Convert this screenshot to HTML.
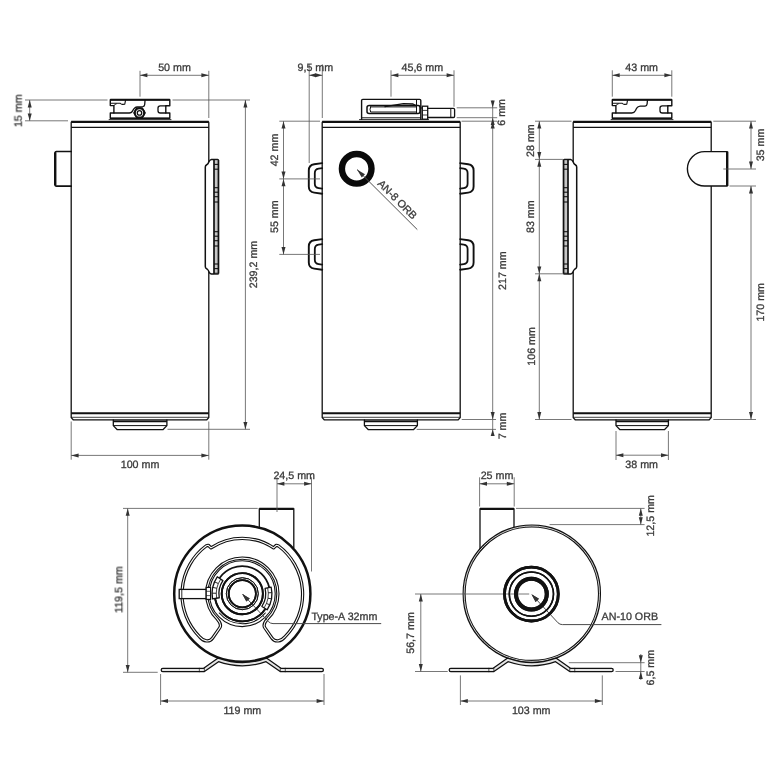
<!DOCTYPE html>
<html><head><meta charset="utf-8"><title>Drawing</title>
<style>
html,body{margin:0;padding:0;background:#fff;}
body{width:780px;height:780px;overflow:hidden;}
svg{display:block}
text{font-family:"Liberation Sans",sans-serif;font-size:10.7px;fill:#383838;dominant-baseline:central;text-rendering:geometricPrecision;stroke:#383838;stroke-width:0.3px;}
</style></head><body>
<svg width="780" height="780" viewBox="0 0 780 780">
<rect x="0" y="0" width="780" height="780" fill="#fff"/>
<path d="M71.2,417.6 L71.2,122.6 Q71.2,121.8 72.0,121.8 L208.0,121.8 Q208.8,121.8 208.8,122.6 L208.8,417.6 L206.8,419.8 L73.2,419.8 Z" fill="none" stroke="#111" stroke-width="1.3" stroke-linejoin="round" stroke-linecap="round"/>
<line x1="71.20" y1="121.80" x2="208.80" y2="121.80" stroke="#111" stroke-width="2.2" stroke-linecap="butt"/>
<line x1="71.20" y1="127.30" x2="208.80" y2="127.30" stroke="#111" stroke-width="1.3" stroke-linecap="butt"/>
<line x1="71.20" y1="413.30" x2="208.80" y2="413.30" stroke="#111" stroke-width="2.0" stroke-linecap="butt"/>
<line x1="71.20" y1="417.30" x2="208.80" y2="417.30" stroke="#111" stroke-width="0.8" stroke-linecap="butt"/>
<path d="M113.3,420 L113.3,425.6 L117.3,429.7 L162.9,429.7 L166.9,425.6 L166.9,420" fill="none" stroke="#111" stroke-width="1.3" stroke-linejoin="round" stroke-linecap="round"/>
<line x1="113.30" y1="425.60" x2="166.90" y2="425.60" stroke="#111" stroke-width="1.0" stroke-linecap="butt"/>
<line x1="113.30" y1="421.30" x2="166.90" y2="421.30" stroke="#111" stroke-width="1.7" stroke-linecap="butt"/>
<path d="M71.2,151.5 L56.4,151.5 Q55.2,151.5 55.2,152.7 L55.2,185 Q55.2,186.2 56.4,186.2 L71.2,186.2" fill="none" stroke="#111" stroke-width="1.7" stroke-linejoin="round" stroke-linecap="round"/>
<line x1="55.20" y1="152.40" x2="55.20" y2="185.40" stroke="#111" stroke-width="2.4" stroke-linecap="butt"/>
<path d="M109.1,119.6 L171.0,119.6" fill="none" stroke="#111" stroke-width="0.9" stroke-linejoin="round" stroke-linecap="round"/>
<path d="M110.3,118.3 L110.3,113 L113.89999999999999,113 L113.89999999999999,105.6 L110.3,105.6 L110.3,99.8 L169.8,99.8 L169.8,105.8 L165.8,105.8 L165.8,113 L169.8,113 L169.8,118.3 Z" fill="none" stroke="#111" stroke-width="1.4" stroke-linejoin="round" stroke-linecap="round"/>
<line x1="110.30" y1="99.80" x2="169.80" y2="99.80" stroke="#111" stroke-width="2.0" stroke-linecap="butt"/>
<line x1="110.30" y1="118.30" x2="169.80" y2="118.30" stroke="#111" stroke-width="1.2" stroke-linecap="butt"/>
<path d="M111.3,103.2 L120.3,103.2 Q121.3,104.6 122.8,104.4 L124.8,104.2 L125.6,99.8" fill="none" stroke="#111" stroke-width="1.1" stroke-linejoin="round" stroke-linecap="round"/>
<path d="M113.89999999999999,105.6 Q114.5,104 116.3,103.8" fill="none" stroke="#111" stroke-width="0.9" stroke-linejoin="round" stroke-linecap="round"/>
<path d="M165.8,105.8 L160.3,105.8 Q158.0,105.8 158.0,108 L158.0,110.8 Q158.0,113 160.3,113 L165.8,113" fill="none" stroke="#111" stroke-width="1.3" stroke-linejoin="round" stroke-linecap="round"/>
<path d="M113.89999999999999,113 L129.3,113 Q131.8,113 132.8,110.5 Q134.3,107 137.3,106.8 L142.8,106.6 Q144.6,106.4 144.7,104.5 L145.1,99.8" fill="none" stroke="#111" stroke-width="1.3" stroke-linejoin="round" stroke-linecap="round"/>
<polygon points="145.10,112.90 142.30,117.75 136.70,117.75 133.90,112.90 136.70,108.05 142.30,108.05" fill="#fff" stroke="#111" stroke-width="1.5" stroke-linejoin="round"/>
<circle cx="139.50" cy="112.90" r="4.60" fill="none" stroke="#111" stroke-width="1.9"/>
<circle cx="139.50" cy="112.90" r="2.20" fill="none" stroke="#111" stroke-width="1.3"/>
<path d="M218.4,160.3 Q218.4,159.5 217.6,159.5 L211.4,159.5 C208.60000000000002,159.8 209.20000000000002,162.9 207.60000000000002,164.1 C206.4,165.1 205.3,164.9 205.3,167.1 L205.3,266.5 C205.3,268.70000000000005 206.4,268.5 207.60000000000002,269.5 C209.20000000000002,270.70000000000005 208.60000000000002,273.8 211.4,274.1 L217.6,274.1 Q218.4,274.1 218.4,273.3 Z" fill="#fff" stroke="#111" stroke-width="1.5" stroke-linejoin="round"/>
<rect x="214.00" y="159.5" width="4.40" height="114.60000000000002" fill="#c6c6c6"/>
<line x1="214.00" y1="159.50" x2="214.00" y2="274.10" stroke="#111" stroke-width="1.7" stroke-linecap="butt"/>
<line x1="218.40" y1="160.00" x2="218.40" y2="273.60" stroke="#111" stroke-width="1.6" stroke-linecap="butt"/>
<line x1="214.00" y1="159.60" x2="218.40" y2="159.60" stroke="#111" stroke-width="1.1" stroke-linecap="butt"/>
<line x1="214.00" y1="164.40" x2="218.40" y2="164.40" stroke="#111" stroke-width="1.1" stroke-linecap="butt"/>
<line x1="214.00" y1="169.20" x2="218.40" y2="169.20" stroke="#111" stroke-width="1.1" stroke-linecap="butt"/>
<line x1="214.00" y1="187.70" x2="218.40" y2="187.70" stroke="#111" stroke-width="1.1" stroke-linecap="butt"/>
<line x1="214.00" y1="192.20" x2="218.40" y2="192.20" stroke="#111" stroke-width="1.1" stroke-linecap="butt"/>
<line x1="214.00" y1="196.70" x2="218.40" y2="196.70" stroke="#111" stroke-width="1.1" stroke-linecap="butt"/>
<line x1="214.00" y1="202.00" x2="218.40" y2="202.00" stroke="#111" stroke-width="1.1" stroke-linecap="butt"/>
<line x1="214.00" y1="231.70" x2="218.40" y2="231.70" stroke="#111" stroke-width="1.1" stroke-linecap="butt"/>
<line x1="214.00" y1="236.20" x2="218.40" y2="236.20" stroke="#111" stroke-width="1.1" stroke-linecap="butt"/>
<line x1="214.00" y1="240.70" x2="218.40" y2="240.70" stroke="#111" stroke-width="1.1" stroke-linecap="butt"/>
<line x1="214.00" y1="246.00" x2="218.40" y2="246.00" stroke="#111" stroke-width="1.1" stroke-linecap="butt"/>
<line x1="214.00" y1="264.00" x2="218.40" y2="264.00" stroke="#111" stroke-width="1.1" stroke-linecap="butt"/>
<line x1="214.00" y1="268.60" x2="218.40" y2="268.60" stroke="#111" stroke-width="1.1" stroke-linecap="butt"/>
<line x1="214.00" y1="273.30" x2="218.40" y2="273.30" stroke="#111" stroke-width="1.1" stroke-linecap="butt"/>
<line x1="25.00" y1="100.00" x2="107.50" y2="100.00" stroke="#555" stroke-width="0.8" stroke-linecap="butt"/>
<line x1="25.00" y1="120.80" x2="68.00" y2="120.80" stroke="#555" stroke-width="0.8" stroke-linecap="butt"/>
<line x1="29.70" y1="100.00" x2="29.70" y2="120.80" stroke="#555" stroke-width="0.8" stroke-linecap="butt"/>
<polygon points="29.70,100.00 27.70,107.40 31.70,107.40" fill="#333"/>
<polygon points="29.70,120.80 31.70,113.40 27.70,113.40" fill="#333"/>
<line x1="140.00" y1="70.80" x2="140.00" y2="96.70" stroke="#555" stroke-width="0.8" stroke-linecap="butt"/>
<line x1="208.80" y1="70.80" x2="208.80" y2="118.00" stroke="#555" stroke-width="0.8" stroke-linecap="butt"/>
<line x1="140.00" y1="75.30" x2="208.80" y2="75.30" stroke="#555" stroke-width="0.8" stroke-linecap="butt"/>
<polygon points="140.00,75.30 147.40,77.30 147.40,73.30" fill="#333"/>
<polygon points="208.80,75.30 201.40,73.30 201.40,77.30" fill="#333"/>
<line x1="172.50" y1="100.00" x2="250.00" y2="100.00" stroke="#555" stroke-width="0.8" stroke-linecap="butt"/>
<line x1="167.50" y1="429.30" x2="250.00" y2="429.30" stroke="#555" stroke-width="0.8" stroke-linecap="butt"/>
<line x1="245.40" y1="100.00" x2="245.40" y2="429.30" stroke="#555" stroke-width="0.8" stroke-linecap="butt"/>
<polygon points="245.40,100.00 243.40,107.40 247.40,107.40" fill="#333"/>
<polygon points="245.40,429.30 247.40,421.90 243.40,421.90" fill="#333"/>
<line x1="71.20" y1="421.50" x2="71.20" y2="459.70" stroke="#555" stroke-width="0.8" stroke-linecap="butt"/>
<line x1="208.80" y1="421.50" x2="208.80" y2="459.70" stroke="#555" stroke-width="0.8" stroke-linecap="butt"/>
<line x1="71.20" y1="455.40" x2="208.80" y2="455.40" stroke="#555" stroke-width="0.8" stroke-linecap="butt"/>
<polygon points="71.20,455.40 78.60,457.40 78.60,453.40" fill="#333"/>
<polygon points="208.80,455.40 201.40,453.40 201.40,457.40" fill="#333"/>
<path d="M322.2,417.6 L322.2,122.6 Q322.2,121.8 323.0,121.8 L459.4,121.8 Q460.2,121.8 460.2,122.6 L460.2,417.6 L458.2,419.8 L324.2,419.8 Z" fill="none" stroke="#111" stroke-width="1.3" stroke-linejoin="round" stroke-linecap="round"/>
<line x1="322.20" y1="121.80" x2="460.20" y2="121.80" stroke="#111" stroke-width="2.2" stroke-linecap="butt"/>
<line x1="322.20" y1="127.30" x2="460.20" y2="127.30" stroke="#111" stroke-width="1.3" stroke-linecap="butt"/>
<line x1="322.20" y1="413.30" x2="460.20" y2="413.30" stroke="#111" stroke-width="2.0" stroke-linecap="butt"/>
<line x1="322.20" y1="417.30" x2="460.20" y2="417.30" stroke="#111" stroke-width="0.8" stroke-linecap="butt"/>
<path d="M364.4,420 L364.4,425.6 L368.4,429.7 L413.4,429.7 L417.4,425.6 L417.4,420" fill="none" stroke="#111" stroke-width="1.3" stroke-linejoin="round" stroke-linecap="round"/>
<line x1="364.40" y1="425.60" x2="417.40" y2="425.60" stroke="#111" stroke-width="1.0" stroke-linecap="butt"/>
<line x1="364.40" y1="421.30" x2="417.40" y2="421.30" stroke="#111" stroke-width="1.7" stroke-linecap="butt"/>
<path d="M359.5,119.6 L428.5,119.6" fill="none" stroke="#111" stroke-width="0.9" stroke-linejoin="round" stroke-linecap="round"/>
<path d="M361.6,119.2 L361.6,100.6 Q361.6,99.4 362.8,99.4 L419.6,99.4 Q420.8,99.4 420.8,100.6 L420.8,119.2" fill="none" stroke="#111" stroke-width="1.4" stroke-linejoin="round" stroke-linecap="round"/>
<line x1="361.60" y1="117.80" x2="420.80" y2="117.80" stroke="#111" stroke-width="1.0" stroke-linecap="butt"/>
<path d="M369.3,105.5 L418,105.5 Q420,105.5 420,107.5 L420,111.4 Q420,113.4 418,113.4 L369.3,113.4 Q367,113.4 367,111.4 L367,107.5 Q367,105.5 369.3,105.5 Z" fill="none" stroke="#111" stroke-width="1.5" stroke-linejoin="round" stroke-linecap="round"/>
<path d="M370.6,106.9 L416.5,106.9 L416.5,112 L370.6,112 Q369.4,109.4 370.6,106.9 Z" fill="none" stroke="#111" stroke-width="1.0" stroke-linejoin="round" stroke-linecap="round"/>
<path d="M385,106.6 L403.5,103.6 L413,104.0 L416.5,105.8" fill="none" stroke="#111" stroke-width="1.3" stroke-linejoin="round" stroke-linecap="round"/>
<line x1="416.50" y1="100.00" x2="416.50" y2="113.00" stroke="#111" stroke-width="1.0" stroke-linecap="butt"/>
<rect x="422.3" y="106.2" width="5.4" height="13" fill="#fff" stroke="#111" stroke-width="1.3"/>
<line x1="422.30" y1="110.40" x2="427.70" y2="110.40" stroke="#111" stroke-width="0.8" stroke-linecap="butt"/>
<line x1="422.30" y1="115.00" x2="427.70" y2="115.00" stroke="#111" stroke-width="0.8" stroke-linecap="butt"/>
<line x1="420.80" y1="108.00" x2="422.30" y2="108.00" stroke="#111" stroke-width="1.0" stroke-linecap="butt"/>
<path d="M427.7,108.3 L453.4,108.3 Q454.6,108.3 454.6,109.5 L454.6,116.3 Q454.6,117.5 453.4,117.5 L427.7,117.5" fill="none" stroke="#111" stroke-width="1.3" stroke-linejoin="round" stroke-linecap="round"/>
<line x1="450.80" y1="108.30" x2="450.80" y2="117.50" stroke="#111" stroke-width="1.0" stroke-linecap="butt"/>
<circle cx="356.70" cy="168.80" r="14.80" fill="none" stroke="#0a0a0a" stroke-width="6.4"/>
<path d="M322.2,163.1 L314.2,164.20000000000002 Q308.8,165.0 308.8,170.4 L308.8,186.4 Q308.8,191.8 314.2,192.6 L322.2,193.70000000000002" fill="none" stroke="#111" stroke-width="1.9" stroke-linejoin="round" stroke-linecap="round"/>
<path d="M322.2,168.1 L318.59999999999997,168.6 Q314.8,169.20000000000002 314.8,173.0 L314.8,183.8 Q314.8,187.6 318.59999999999997,188.20000000000002 L322.2,188.70000000000002" fill="none" stroke="#111" stroke-width="1.8" stroke-linejoin="round" stroke-linecap="round"/>
<path d="M460.2,163.1 L468.2,164.20000000000002 Q473.59999999999997,165.0 473.59999999999997,170.4 L473.59999999999997,186.4 Q473.59999999999997,191.8 468.2,192.6 L460.2,193.70000000000002" fill="none" stroke="#111" stroke-width="1.9" stroke-linejoin="round" stroke-linecap="round"/>
<path d="M460.2,168.1 L463.8,168.6 Q467.59999999999997,169.20000000000002 467.59999999999997,173.0 L467.59999999999997,183.8 Q467.59999999999997,187.6 463.8,188.20000000000002 L460.2,188.70000000000002" fill="none" stroke="#111" stroke-width="1.8" stroke-linejoin="round" stroke-linecap="round"/>
<path d="M322.2,239.1 L314.2,240.20000000000002 Q308.8,241.0 308.8,246.4 L308.8,262.4 Q308.8,267.8 314.2,268.6 L322.2,269.7" fill="none" stroke="#111" stroke-width="1.9" stroke-linejoin="round" stroke-linecap="round"/>
<path d="M322.2,244.1 L318.59999999999997,244.6 Q314.8,245.20000000000002 314.8,249.0 L314.8,259.8 Q314.8,263.6 318.59999999999997,264.2 L322.2,264.7" fill="none" stroke="#111" stroke-width="1.8" stroke-linejoin="round" stroke-linecap="round"/>
<path d="M460.2,239.1 L468.2,240.20000000000002 Q473.59999999999997,241.0 473.59999999999997,246.4 L473.59999999999997,262.4 Q473.59999999999997,267.8 468.2,268.6 L460.2,269.7" fill="none" stroke="#111" stroke-width="1.9" stroke-linejoin="round" stroke-linecap="round"/>
<path d="M460.2,244.1 L463.8,244.6 Q467.59999999999997,245.20000000000002 467.59999999999997,249.0 L467.59999999999997,259.8 Q467.59999999999997,263.6 463.8,264.2 L460.2,264.7" fill="none" stroke="#111" stroke-width="1.8" stroke-linejoin="round" stroke-linecap="round"/>
<line x1="309.20" y1="64.30" x2="309.20" y2="163.00" stroke="#555" stroke-width="0.8" stroke-linecap="butt"/>
<line x1="322.30" y1="64.30" x2="322.30" y2="118.00" stroke="#555" stroke-width="0.8" stroke-linecap="butt"/>
<line x1="309.20" y1="75.30" x2="322.30" y2="75.30" stroke="#555" stroke-width="0.8" stroke-linecap="butt"/>
<polygon points="309.20,75.30 316.00,77.30 316.00,73.30" fill="#333"/>
<polygon points="322.30,75.30 315.50,73.30 315.50,77.30" fill="#333"/>
<line x1="391.00" y1="70.30" x2="391.00" y2="96.70" stroke="#555" stroke-width="0.8" stroke-linecap="butt"/>
<line x1="454.00" y1="70.30" x2="454.00" y2="106.70" stroke="#555" stroke-width="0.8" stroke-linecap="butt"/>
<line x1="391.00" y1="75.30" x2="454.00" y2="75.30" stroke="#555" stroke-width="0.8" stroke-linecap="butt"/>
<polygon points="391.00,75.30 398.40,77.30 398.40,73.30" fill="#333"/>
<polygon points="454.00,75.30 446.60,73.30 446.60,77.30" fill="#333"/>
<line x1="456.70" y1="107.80" x2="497.20" y2="107.80" stroke="#555" stroke-width="0.8" stroke-linecap="butt"/>
<line x1="456.70" y1="117.70" x2="497.20" y2="117.70" stroke="#555" stroke-width="0.8" stroke-linecap="butt"/>
<line x1="461.50" y1="121.20" x2="497.20" y2="121.20" stroke="#555" stroke-width="0.8" stroke-linecap="butt"/>
<line x1="492.70" y1="100.50" x2="492.70" y2="419.50" stroke="#555" stroke-width="0.8" stroke-linecap="butt"/>
<polygon points="492.70,107.80 494.70,100.40 490.70,100.40" fill="#333"/>
<polygon points="492.70,117.70 490.70,125.10 494.70,125.10" fill="#333"/>
<polygon points="492.70,121.20 490.70,128.60 494.70,128.60" fill="#333"/>
<polygon points="492.70,419.50 494.70,412.10 490.70,412.10" fill="#333"/>
<line x1="461.70" y1="419.50" x2="496.00" y2="419.50" stroke="#555" stroke-width="0.8" stroke-linecap="butt"/>
<line x1="416.70" y1="429.40" x2="496.00" y2="429.40" stroke="#555" stroke-width="0.8" stroke-linecap="butt"/>
<line x1="492.70" y1="419.50" x2="492.70" y2="435.00" stroke="#555" stroke-width="0.8" stroke-linecap="butt"/>
<polygon points="492.70,429.50 490.70,436.10 494.70,436.10" fill="#333"/>
<line x1="279.30" y1="121.20" x2="320.00" y2="121.20" stroke="#555" stroke-width="0.8" stroke-linecap="butt"/>
<line x1="279.30" y1="178.90" x2="320.00" y2="178.90" stroke="#555" stroke-width="0.8" stroke-linecap="butt"/>
<line x1="279.30" y1="254.40" x2="320.00" y2="254.40" stroke="#555" stroke-width="0.8" stroke-linecap="butt"/>
<line x1="283.50" y1="121.20" x2="283.50" y2="178.90" stroke="#555" stroke-width="0.8" stroke-linecap="butt"/>
<polygon points="283.50,121.20 281.50,128.60 285.50,128.60" fill="#333"/>
<polygon points="283.50,178.90 285.50,171.50 281.50,171.50" fill="#333"/>
<line x1="283.50" y1="178.90" x2="283.50" y2="254.40" stroke="#555" stroke-width="0.8" stroke-linecap="butt"/>
<polygon points="283.50,178.90 281.50,186.30 285.50,186.30" fill="#333"/>
<polygon points="283.50,254.40 285.50,247.00 281.50,247.00" fill="#333"/>
<line x1="357.00" y1="169.50" x2="417.30" y2="229.60" stroke="#505050" stroke-width="1.0" stroke-linecap="butt"/>
<polygon points="357.00,169.50 361.74,177.49 364.99,174.24" fill="#333"/>
<path d="M573.2,417.6 L573.2,122.6 Q573.2,121.8 574.0,121.8 L710.4000000000001,121.8 Q711.2,121.8 711.2,122.6 L711.2,417.6 L709.2,419.8 L575.2,419.8 Z" fill="none" stroke="#111" stroke-width="1.3" stroke-linejoin="round" stroke-linecap="round"/>
<line x1="573.20" y1="121.80" x2="711.20" y2="121.80" stroke="#111" stroke-width="2.2" stroke-linecap="butt"/>
<line x1="573.20" y1="127.30" x2="711.20" y2="127.30" stroke="#111" stroke-width="1.3" stroke-linecap="butt"/>
<line x1="573.20" y1="413.30" x2="711.20" y2="413.30" stroke="#111" stroke-width="2.0" stroke-linecap="butt"/>
<line x1="573.20" y1="417.30" x2="711.20" y2="417.30" stroke="#111" stroke-width="0.8" stroke-linecap="butt"/>
<path d="M616,420 L616,425.6 L620,429.7 L664.4,429.7 L668.4,425.6 L668.4,420" fill="none" stroke="#111" stroke-width="1.3" stroke-linejoin="round" stroke-linecap="round"/>
<line x1="616.00" y1="425.60" x2="668.40" y2="425.60" stroke="#111" stroke-width="1.0" stroke-linecap="butt"/>
<line x1="616.00" y1="421.30" x2="668.40" y2="421.30" stroke="#111" stroke-width="1.7" stroke-linecap="butt"/>
<path d="M611.0999999999999,119.6 L673.0,119.6" fill="none" stroke="#111" stroke-width="0.9" stroke-linejoin="round" stroke-linecap="round"/>
<path d="M612.3,118.3 L612.3,113 L615.9,113 L615.9,105.6 L612.3,105.6 L612.3,99.8 L671.8,99.8 L671.8,105.8 L667.8,105.8 L667.8,113 L671.8,113 L671.8,118.3 Z" fill="none" stroke="#111" stroke-width="1.4" stroke-linejoin="round" stroke-linecap="round"/>
<line x1="612.30" y1="99.80" x2="671.80" y2="99.80" stroke="#111" stroke-width="2.0" stroke-linecap="butt"/>
<line x1="612.30" y1="118.30" x2="671.80" y2="118.30" stroke="#111" stroke-width="1.2" stroke-linecap="butt"/>
<path d="M613.3,103.2 L622.3,103.2 Q623.3,104.6 624.8,104.4 L626.8,104.2 L627.5999999999999,99.8" fill="none" stroke="#111" stroke-width="1.1" stroke-linejoin="round" stroke-linecap="round"/>
<path d="M615.9,105.6 Q616.5,104 618.3,103.8" fill="none" stroke="#111" stroke-width="0.9" stroke-linejoin="round" stroke-linecap="round"/>
<path d="M667.8,105.8 L662.3,105.8 Q660.0,105.8 660.0,108 L660.0,110.8 Q660.0,113 662.3,113 L667.8,113" fill="none" stroke="#111" stroke-width="1.3" stroke-linejoin="round" stroke-linecap="round"/>
<path d="M615.9,113 L631.8,113 Q634.3,113 635.5,110.5 Q637.0999999999999,106.4 640.3,106.2 L645.0999999999999,106.1 Q646.9,106 647.0999999999999,104 L647.5,99.8" fill="none" stroke="#111" stroke-width="1.3" stroke-linejoin="round" stroke-linecap="round"/>
<path d="M727.2,151.6 L704.6,151.6 A17.2,17.2 0 0 0 704.6,186 L727.2,186 Z" fill="#fff" stroke="#111" stroke-width="1.4" stroke-linejoin="round"/>
<line x1="727.20" y1="151.60" x2="727.20" y2="186.00" stroke="#111" stroke-width="2.4" stroke-linecap="butt"/>
<path d="M563.6,160.3 Q563.6,159.5 564.4,159.5 L570.6,159.5 C573.4000000000001,159.8 572.8000000000001,162.9 574.4000000000001,164.1 C575.6,165.1 576.7,164.9 576.7,167.1 L576.7,266.5 C576.7,268.70000000000005 575.6,268.5 574.4000000000001,269.5 C572.8000000000001,270.70000000000005 573.4000000000001,273.8 570.6,274.1 L564.4,274.1 Q563.6,274.1 563.6,273.3 Z" fill="#fff" stroke="#111" stroke-width="1.5" stroke-linejoin="round"/>
<rect x="563.60" y="159.5" width="4.40" height="114.60000000000002" fill="#c6c6c6"/>
<line x1="568.00" y1="159.50" x2="568.00" y2="274.10" stroke="#111" stroke-width="1.7" stroke-linecap="butt"/>
<line x1="563.60" y1="160.00" x2="563.60" y2="273.60" stroke="#111" stroke-width="1.6" stroke-linecap="butt"/>
<line x1="568.00" y1="159.60" x2="563.60" y2="159.60" stroke="#111" stroke-width="1.1" stroke-linecap="butt"/>
<line x1="568.00" y1="164.40" x2="563.60" y2="164.40" stroke="#111" stroke-width="1.1" stroke-linecap="butt"/>
<line x1="568.00" y1="169.20" x2="563.60" y2="169.20" stroke="#111" stroke-width="1.1" stroke-linecap="butt"/>
<line x1="568.00" y1="187.70" x2="563.60" y2="187.70" stroke="#111" stroke-width="1.1" stroke-linecap="butt"/>
<line x1="568.00" y1="192.20" x2="563.60" y2="192.20" stroke="#111" stroke-width="1.1" stroke-linecap="butt"/>
<line x1="568.00" y1="196.70" x2="563.60" y2="196.70" stroke="#111" stroke-width="1.1" stroke-linecap="butt"/>
<line x1="568.00" y1="202.00" x2="563.60" y2="202.00" stroke="#111" stroke-width="1.1" stroke-linecap="butt"/>
<line x1="568.00" y1="231.70" x2="563.60" y2="231.70" stroke="#111" stroke-width="1.1" stroke-linecap="butt"/>
<line x1="568.00" y1="236.20" x2="563.60" y2="236.20" stroke="#111" stroke-width="1.1" stroke-linecap="butt"/>
<line x1="568.00" y1="240.70" x2="563.60" y2="240.70" stroke="#111" stroke-width="1.1" stroke-linecap="butt"/>
<line x1="568.00" y1="246.00" x2="563.60" y2="246.00" stroke="#111" stroke-width="1.1" stroke-linecap="butt"/>
<line x1="568.00" y1="264.00" x2="563.60" y2="264.00" stroke="#111" stroke-width="1.1" stroke-linecap="butt"/>
<line x1="568.00" y1="268.60" x2="563.60" y2="268.60" stroke="#111" stroke-width="1.1" stroke-linecap="butt"/>
<line x1="568.00" y1="273.30" x2="563.60" y2="273.30" stroke="#111" stroke-width="1.1" stroke-linecap="butt"/>
<line x1="612.30" y1="70.30" x2="612.30" y2="96.70" stroke="#555" stroke-width="0.8" stroke-linecap="butt"/>
<line x1="671.80" y1="70.30" x2="671.80" y2="96.70" stroke="#555" stroke-width="0.8" stroke-linecap="butt"/>
<line x1="612.30" y1="75.30" x2="671.80" y2="75.30" stroke="#555" stroke-width="0.8" stroke-linecap="butt"/>
<polygon points="612.30,75.30 619.70,77.30 619.70,73.30" fill="#333"/>
<polygon points="671.80,75.30 664.40,73.30 664.40,77.30" fill="#333"/>
<line x1="713.30" y1="121.20" x2="756.00" y2="121.20" stroke="#555" stroke-width="0.8" stroke-linecap="butt"/>
<line x1="723.30" y1="169.00" x2="756.00" y2="169.00" stroke="#555" stroke-width="0.8" stroke-linecap="butt"/>
<line x1="729.50" y1="186.00" x2="756.00" y2="186.00" stroke="#555" stroke-width="0.8" stroke-linecap="butt"/>
<line x1="751.00" y1="121.20" x2="751.00" y2="169.00" stroke="#555" stroke-width="0.8" stroke-linecap="butt"/>
<polygon points="751.00,121.20 749.00,128.60 753.00,128.60" fill="#333"/>
<polygon points="751.00,169.00 753.00,161.60 749.00,161.60" fill="#333"/>
<line x1="751.00" y1="186.00" x2="751.00" y2="419.50" stroke="#555" stroke-width="0.8" stroke-linecap="butt"/>
<polygon points="751.00,186.00 749.00,193.40 753.00,193.40" fill="#333"/>
<polygon points="751.00,419.50 753.00,412.10 749.00,412.10" fill="#333"/>
<line x1="713.30" y1="419.50" x2="756.00" y2="419.50" stroke="#555" stroke-width="0.8" stroke-linecap="butt"/>
<line x1="535.00" y1="121.20" x2="571.50" y2="121.20" stroke="#555" stroke-width="0.8" stroke-linecap="butt"/>
<line x1="535.00" y1="159.40" x2="563.00" y2="159.40" stroke="#555" stroke-width="0.8" stroke-linecap="butt"/>
<line x1="535.00" y1="273.80" x2="563.00" y2="273.80" stroke="#555" stroke-width="0.8" stroke-linecap="butt"/>
<line x1="535.00" y1="419.50" x2="571.50" y2="419.50" stroke="#555" stroke-width="0.8" stroke-linecap="butt"/>
<line x1="539.30" y1="121.20" x2="539.30" y2="159.40" stroke="#555" stroke-width="0.8" stroke-linecap="butt"/>
<polygon points="539.30,121.20 537.30,128.60 541.30,128.60" fill="#333"/>
<polygon points="539.30,159.40 541.30,152.00 537.30,152.00" fill="#333"/>
<line x1="539.30" y1="159.40" x2="539.30" y2="273.80" stroke="#555" stroke-width="0.8" stroke-linecap="butt"/>
<polygon points="539.30,159.40 537.30,166.80 541.30,166.80" fill="#333"/>
<polygon points="539.30,273.80 541.30,266.40 537.30,266.40" fill="#333"/>
<line x1="539.30" y1="273.80" x2="539.30" y2="419.50" stroke="#555" stroke-width="0.8" stroke-linecap="butt"/>
<polygon points="539.30,273.80 537.30,281.20 541.30,281.20" fill="#333"/>
<polygon points="539.30,419.50 541.30,412.10 537.30,412.10" fill="#333"/>
<line x1="616.00" y1="431.00" x2="616.00" y2="460.00" stroke="#555" stroke-width="0.8" stroke-linecap="butt"/>
<line x1="668.40" y1="431.00" x2="668.40" y2="460.00" stroke="#555" stroke-width="0.8" stroke-linecap="butt"/>
<line x1="616.00" y1="455.20" x2="668.40" y2="455.20" stroke="#555" stroke-width="0.8" stroke-linecap="butt"/>
<polygon points="616.00,455.20 623.40,457.20 623.40,453.20" fill="#333"/>
<polygon points="668.40,455.20 661.00,453.20 661.00,457.20" fill="#333"/>
<path d="M259.3,530 L259.3,508.8 L293.8,508.8 L293.8,548" fill="#fff" stroke="#111" stroke-width="1.3"/>
<line x1="259.30" y1="508.80" x2="293.80" y2="508.80" stroke="#111" stroke-width="2.2" stroke-linecap="butt"/>
<circle cx="242.30" cy="593.70" r="68.10" fill="#fff" stroke="#111" stroke-width="2.5"/>
<path d="M162.79999999999998,670 L203.84754709847007,670 L218.34754709847007,659.9 A70.4,70.4 0 0 0 266.2524529015299,659.9 L280.7524529015299,670 L321.8,670" fill="none" stroke="#111" stroke-width="4.5" stroke-linejoin="round" stroke-linecap="round"/>
<path d="M162.79999999999998,670 L203.84754709847007,670 L218.34754709847007,659.9 A70.4,70.4 0 0 0 266.2524529015299,659.9 L280.7524529015299,670 L321.8,670" fill="none" stroke="#e6e6e6" stroke-width="1.9" stroke-linejoin="round" stroke-linecap="round"/>
<line x1="199.35" y1="667.80" x2="199.35" y2="672.20" stroke="#111" stroke-width="0.7" stroke-linecap="butt"/>
<line x1="204.35" y1="667.80" x2="204.35" y2="672.20" stroke="#111" stroke-width="0.7" stroke-linecap="butt"/>
<line x1="280.25" y1="667.80" x2="280.25" y2="672.20" stroke="#111" stroke-width="0.7" stroke-linecap="butt"/>
<line x1="285.25" y1="667.80" x2="285.25" y2="672.20" stroke="#111" stroke-width="0.7" stroke-linecap="butt"/>
<path d="M199.66,636.84 A60.3,60.3 0 0 1 206.35,545.79 L208.30,545.30 L211.00,547.90 A56.0,56.0 0 0 1 273.60,547.90 L276.30,545.30 L278.25,545.79 A60.3,60.3 0 0 1 284.94,636.84 C281.10,641.50 275.10,642.50 272.10,638.30 L264.90,627.90 Q262.50,624.50 267.25,619.09 A35.6,35.6 0 1 0 217.35,619.09 Q222.10,624.50 219.70,627.90 L212.50,638.30 C209.50,642.50 203.50,641.50 199.66,636.84 Z" fill="none" stroke="#111" stroke-width="3.3" stroke-linejoin="round" stroke-linecap="round"/>
<path d="M199.66,636.84 A60.3,60.3 0 0 1 206.35,545.79 L208.30,545.30 L211.00,547.90 A56.0,56.0 0 0 1 273.60,547.90 L276.30,545.30 L278.25,545.79 A60.3,60.3 0 0 1 284.94,636.84 C281.10,641.50 275.10,642.50 272.10,638.30 L264.90,627.90 Q262.50,624.50 267.25,619.09 A35.6,35.6 0 1 0 217.35,619.09 Q222.10,624.50 219.70,627.90 L212.50,638.30 C209.50,642.50 203.50,641.50 199.66,636.84 Z" fill="none" stroke="#fff" stroke-width="1.1" stroke-linejoin="round" stroke-linecap="round"/>
<circle cx="242.30" cy="593.70" r="32.90" fill="none" stroke="#111" stroke-width="1.1"/>
<path d="M219.97,577.48 A27.6,27.6 0 0 1 269.08,587.02" fill="none" stroke="#111" stroke-width="1.8" stroke-linejoin="round" stroke-linecap="round"/>
<path d="M264.91,609.53 A27.6,27.6 0 0 1 215.30,599.44" fill="none" stroke="#111" stroke-width="1.8" stroke-linejoin="round" stroke-linecap="round"/>
<circle cx="242.30" cy="593.70" r="20.60" fill="none" stroke="#111" stroke-width="1.9"/>
<circle cx="242.30" cy="593.70" r="16.00" fill="none" stroke="#111" stroke-width="0.9"/>
<circle cx="242.30" cy="593.70" r="13.60" fill="none" stroke="#111" stroke-width="1.8"/>
<path d="M219.26,597.76 L212.56,598.94 A30.2,30.2 0 0 1 217.26,576.81 L222.90,580.61 A23.4,23.4 0 0 0 219.26,597.76 Z" fill="#fff" stroke="#111" stroke-width="1.3" stroke-linejoin="round"/>
<line x1="216.30" y1="593.25" x2="212.10" y2="593.17" stroke="#111" stroke-width="0.9" stroke-linecap="butt"/>
<line x1="216.87" y1="588.29" x2="212.76" y2="587.42" stroke="#111" stroke-width="0.9" stroke-linecap="butt"/>
<line x1="218.37" y1="583.54" x2="214.50" y2="581.90" stroke="#111" stroke-width="0.9" stroke-linecap="butt"/>
<path d="M216.69,598.21 A26.0,26.0 0 0 1 220.75,579.16" fill="none" stroke="#111" stroke-width="0.8"/>
<path d="M265.10,588.44 L271.14,587.04 A29.6,29.6 0 0 1 267.12,609.82 L261.92,606.44 A23.4,23.4 0 0 0 265.10,588.44 Z" fill="#fff" stroke="#111" stroke-width="1.3" stroke-linejoin="round"/>
<line x1="268.28" y1="592.79" x2="271.88" y2="592.67" stroke="#111" stroke-width="0.9" stroke-linecap="butt"/>
<line x1="267.91" y1="598.21" x2="271.45" y2="598.84" stroke="#111" stroke-width="0.9" stroke-linecap="butt"/>
<line x1="266.41" y1="603.44" x2="269.74" y2="604.79" stroke="#111" stroke-width="0.9" stroke-linecap="butt"/>
<path d="M267.63,587.85 A26.0,26.0 0 0 1 264.11,607.86" fill="none" stroke="#111" stroke-width="0.8"/>
<path d="M265.28,612.98 A30.0,30.0 0 0 1 219.32,612.98" fill="none" stroke="#111" stroke-width="1.1" stroke-linejoin="round" stroke-linecap="round"/>
<rect x="179.2" y="589.4" width="27" height="9.2" fill="#fff" stroke="#111" stroke-width="1.3"/>
<line x1="181.80" y1="589.40" x2="181.80" y2="598.60" stroke="#111" stroke-width="0.9" stroke-linecap="butt"/>
<rect x="206.2" y="587.4" width="4.4" height="12" fill="#fff" stroke="#111" stroke-width="1.2"/>
<line x1="206.20" y1="591.30" x2="210.60" y2="591.30" stroke="#111" stroke-width="0.7" stroke-linecap="butt"/>
<line x1="206.20" y1="595.60" x2="210.60" y2="595.60" stroke="#111" stroke-width="0.7" stroke-linecap="butt"/>
<line x1="277.00" y1="477.30" x2="277.00" y2="512.00" stroke="#555" stroke-width="0.8" stroke-linecap="butt"/>
<line x1="311.50" y1="477.30" x2="311.50" y2="571.50" stroke="#555" stroke-width="0.8" stroke-linecap="butt"/>
<line x1="277.00" y1="483.80" x2="311.50" y2="483.80" stroke="#555" stroke-width="0.8" stroke-linecap="butt"/>
<polygon points="277.00,483.80 284.40,485.80 284.40,481.80" fill="#333"/>
<polygon points="311.50,483.80 304.10,481.80 304.10,485.80" fill="#333"/>
<line x1="123.00" y1="508.40" x2="257.70" y2="508.40" stroke="#555" stroke-width="0.8" stroke-linecap="butt"/>
<line x1="123.00" y1="672.30" x2="157.70" y2="672.30" stroke="#555" stroke-width="0.8" stroke-linecap="butt"/>
<line x1="127.70" y1="508.40" x2="127.70" y2="672.30" stroke="#555" stroke-width="0.8" stroke-linecap="butt"/>
<polygon points="127.70,508.40 125.70,515.80 129.70,515.80" fill="#333"/>
<polygon points="127.70,672.30 129.70,664.90 125.70,664.90" fill="#333"/>
<line x1="160.60" y1="674.00" x2="160.60" y2="705.00" stroke="#555" stroke-width="0.8" stroke-linecap="butt"/>
<line x1="324.00" y1="674.00" x2="324.00" y2="705.00" stroke="#555" stroke-width="0.8" stroke-linecap="butt"/>
<line x1="160.60" y1="701.00" x2="324.00" y2="701.00" stroke="#555" stroke-width="0.8" stroke-linecap="butt"/>
<polygon points="160.60,701.00 168.00,703.00 168.00,699.00" fill="#333"/>
<polygon points="324.00,701.00 316.60,699.00 316.60,703.00" fill="#333"/>
<path d="M243,594.4 L268.4,621.6 Q270.4,623.6 273,623.6 L380.8,623.6" fill="none" stroke="#4a4a4a" stroke-width="1.0" stroke-linejoin="round" stroke-linecap="round"/>
<polygon points="242.30,593.90 246.40,601.58 249.74,598.42" fill="#333"/>
<path d="M480,549 L480,508.8 L514,508.8 L514,528" fill="#fff" stroke="#111" stroke-width="1.3"/>
<line x1="480.00" y1="508.80" x2="514.00" y2="508.80" stroke="#111" stroke-width="2.2" stroke-linecap="butt"/>
<circle cx="531.80" cy="593.70" r="67.70" fill="#fff" stroke="#111" stroke-width="3.1"/>
<circle cx="531.80" cy="593.70" r="67.70" fill="none" stroke="#fff" stroke-width="0.8"/>
<path d="M450.8,670 L493.34754709847005,670 L507.84754709847005,659.9 A70.4,70.4 0 0 0 555.7524529015299,659.9 L570.2524529015299,670 L611.5999999999999,670" fill="none" stroke="#111" stroke-width="4.5" stroke-linejoin="round" stroke-linecap="round"/>
<path d="M450.8,670 L493.34754709847005,670 L507.84754709847005,659.9 A70.4,70.4 0 0 0 555.7524529015299,659.9 L570.2524529015299,670 L611.5999999999999,670" fill="none" stroke="#e6e6e6" stroke-width="1.9" stroke-linejoin="round" stroke-linecap="round"/>
<line x1="488.85" y1="667.80" x2="488.85" y2="672.20" stroke="#111" stroke-width="0.7" stroke-linecap="butt"/>
<line x1="493.85" y1="667.80" x2="493.85" y2="672.20" stroke="#111" stroke-width="0.7" stroke-linecap="butt"/>
<line x1="569.75" y1="667.80" x2="569.75" y2="672.20" stroke="#111" stroke-width="0.7" stroke-linecap="butt"/>
<line x1="574.75" y1="667.80" x2="574.75" y2="672.20" stroke="#111" stroke-width="0.7" stroke-linecap="butt"/>
<circle cx="531.40" cy="594.10" r="26.90" fill="none" stroke="#111" stroke-width="2.8"/>
<circle cx="531.40" cy="594.10" r="22.10" fill="none" stroke="#111" stroke-width="1.5"/>
<circle cx="531.40" cy="594.10" r="15.40" fill="none" stroke="#111" stroke-width="4.0"/>
<line x1="479.60" y1="477.30" x2="479.60" y2="506.50" stroke="#555" stroke-width="0.8" stroke-linecap="butt"/>
<line x1="514.20" y1="477.30" x2="514.20" y2="506.50" stroke="#555" stroke-width="0.8" stroke-linecap="butt"/>
<line x1="479.60" y1="483.80" x2="514.20" y2="483.80" stroke="#555" stroke-width="0.8" stroke-linecap="butt"/>
<polygon points="479.60,483.80 487.00,485.80 487.00,481.80" fill="#333"/>
<polygon points="514.20,483.80 506.80,481.80 506.80,485.80" fill="#333"/>
<line x1="516.00" y1="508.40" x2="644.60" y2="508.40" stroke="#555" stroke-width="0.8" stroke-linecap="butt"/>
<line x1="549.60" y1="524.60" x2="644.60" y2="524.60" stroke="#555" stroke-width="0.8" stroke-linecap="butt"/>
<line x1="640.80" y1="508.40" x2="640.80" y2="524.60" stroke="#555" stroke-width="0.8" stroke-linecap="butt"/>
<polygon points="640.80,508.40 638.80,515.80 642.80,515.80" fill="#333"/>
<polygon points="640.80,524.60 642.80,517.20 638.80,517.20" fill="#333"/>
<line x1="415.00" y1="594.00" x2="529.20" y2="594.00" stroke="#555" stroke-width="0.8" stroke-linecap="butt"/>
<line x1="415.00" y1="671.50" x2="447.70" y2="671.50" stroke="#555" stroke-width="0.8" stroke-linecap="butt"/>
<line x1="420.80" y1="594.00" x2="420.80" y2="671.50" stroke="#555" stroke-width="0.8" stroke-linecap="butt"/>
<polygon points="420.80,594.00 418.80,601.40 422.80,601.40" fill="#333"/>
<polygon points="420.80,671.50 422.80,664.10 418.80,664.10" fill="#333"/>
<line x1="568.80" y1="662.70" x2="644.60" y2="662.70" stroke="#555" stroke-width="0.8" stroke-linecap="butt"/>
<line x1="615.50" y1="671.50" x2="644.60" y2="671.50" stroke="#555" stroke-width="0.8" stroke-linecap="butt"/>
<line x1="640.80" y1="654.00" x2="640.80" y2="680.00" stroke="#555" stroke-width="0.8" stroke-linecap="butt"/>
<polygon points="640.80,662.70 642.80,655.30 638.80,655.30" fill="#333"/>
<polygon points="640.80,671.50 638.80,678.90 642.80,678.90" fill="#333"/>
<line x1="460.40" y1="675.40" x2="460.40" y2="705.00" stroke="#555" stroke-width="0.8" stroke-linecap="butt"/>
<line x1="602.30" y1="675.40" x2="602.30" y2="705.00" stroke="#555" stroke-width="0.8" stroke-linecap="butt"/>
<line x1="460.40" y1="701.00" x2="602.30" y2="701.00" stroke="#555" stroke-width="0.8" stroke-linecap="butt"/>
<polygon points="460.40,701.00 467.80,703.00 467.80,699.00" fill="#333"/>
<polygon points="602.30,701.00 594.90,699.00 594.90,703.00" fill="#333"/>
<path d="M532.4,595.2 L558.0,622.8 Q559.8,624.6 562.4,624.6 L661,624.6" fill="none" stroke="#4a4a4a" stroke-width="1.0" stroke-linejoin="round" stroke-linecap="round"/>
<polygon points="531.50,594.30 535.60,601.98 538.94,598.82" fill="#333"/>
<circle cx="531.40" cy="594.10" r="26.90" fill="none" stroke="#111" stroke-width="2.8"/>
<circle cx="531.40" cy="594.10" r="22.10" fill="none" stroke="#111" stroke-width="1.5"/>
<circle cx="531.40" cy="594.10" r="15.40" fill="none" stroke="#111" stroke-width="4.0"/>
<polygon points="531.50,594.30 535.60,601.98 538.94,598.82" fill="#333"/>
<circle cx="242.30" cy="593.70" r="20.60" fill="none" stroke="#111" stroke-width="1.9"/>
<circle cx="242.30" cy="593.70" r="16.00" fill="none" stroke="#111" stroke-width="0.9"/>
<circle cx="242.30" cy="593.70" r="13.60" fill="none" stroke="#111" stroke-width="1.8"/>
<path d="M264.91,609.53 A27.6,27.6 0 0 1 215.30,599.44" fill="none" stroke="#111" stroke-width="1.8" stroke-linejoin="round" stroke-linecap="round"/>
<polygon points="242.30,593.90 246.40,601.58 249.74,598.42" fill="#333"/>
<g opacity="0.99">
<text x="18.50" y="110.80" dy="0.6" text-anchor="middle" transform="rotate(-90 18.50 110.80)">15 mm</text>
<text x="174.50" y="67.40" dy="0.6" text-anchor="middle">50 mm</text>
<text x="253.90" y="264.50" dy="0.6" text-anchor="middle" transform="rotate(-90 253.90 264.50)">239,2 mm</text>
<text x="140.00" y="464.30" dy="0.6" text-anchor="middle">100 mm</text>
<text x="315.30" y="67.20" dy="0.6" text-anchor="middle">9,5 mm</text>
<text x="422.30" y="67.20" dy="0.6" text-anchor="middle">45,6 mm</text>
<text x="501.70" y="112.40" dy="0.6" text-anchor="middle" transform="rotate(-90 501.70 112.40)">6 mm</text>
<text x="502.00" y="270.70" dy="0.6" text-anchor="middle" transform="rotate(-90 502.00 270.70)">217 mm</text>
<text x="502.00" y="426.00" dy="0.6" text-anchor="middle" transform="rotate(-90 502.00 426.00)">7 mm</text>
<text x="274.70" y="150.00" dy="0.6" text-anchor="middle" transform="rotate(-90 274.70 150.00)">42 mm</text>
<text x="274.70" y="216.70" dy="0.6" text-anchor="middle" transform="rotate(-90 274.70 216.70)">55 mm</text>
<text x="397.30" y="199.50" dy="0.6" text-anchor="middle" transform="rotate(45 397.30 199.50)">AN-8 ORB</text>
<text x="641.70" y="67.20" dy="0.6" text-anchor="middle">43 mm</text>
<text x="760.40" y="145.00" dy="0.6" text-anchor="middle" transform="rotate(-90 760.40 145.00)">35 mm</text>
<text x="760.40" y="302.30" dy="0.6" text-anchor="middle" transform="rotate(-90 760.40 302.30)">170 mm</text>
<text x="530.40" y="140.60" dy="0.6" text-anchor="middle" transform="rotate(-90 530.40 140.60)">28 mm</text>
<text x="530.40" y="216.70" dy="0.6" text-anchor="middle" transform="rotate(-90 530.40 216.70)">83 mm</text>
<text x="531.10" y="346.40" dy="0.6" text-anchor="middle" transform="rotate(-90 531.10 346.40)">106 mm</text>
<text x="641.70" y="464.30" dy="0.6" text-anchor="middle">38 mm</text>
<text x="294.20" y="475.60" dy="0.6" text-anchor="middle">24,5 mm</text>
<text x="118.90" y="589.60" dy="0.6" text-anchor="middle" transform="rotate(-90 118.90 589.60)">119,5 mm</text>
<text x="242.30" y="710.20" dy="0.6" text-anchor="middle">119 mm</text>
<text x="311.40" y="616.40" dy="0.6" text-anchor="start">Type-A 32mm</text>
<text x="497.00" y="475.60" dy="0.6" text-anchor="middle">25 mm</text>
<text x="650.10" y="515.80" dy="0.6" text-anchor="middle" transform="rotate(-90 650.10 515.80)">12,5 mm</text>
<text x="410.90" y="633.00" dy="0.6" text-anchor="middle" transform="rotate(-90 410.90 633.00)">56,7 mm</text>
<text x="650.10" y="667.70" dy="0.6" text-anchor="middle" transform="rotate(-90 650.10 667.70)">6,5 mm</text>
<text x="531.20" y="710.20" dy="0.6" text-anchor="middle">103 mm</text>
<text x="601.60" y="616.40" dy="0.6" text-anchor="start">AN-10 ORB</text>
</g>
</svg>
</body></html>
